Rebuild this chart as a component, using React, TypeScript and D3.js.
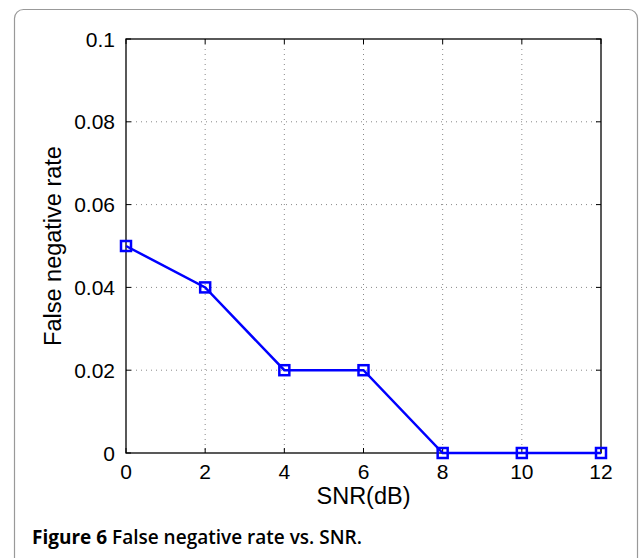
import React from 'react'
import * as d3 from 'd3'

// data
const snr = [0, 2, 4, 6, 8, 10, 12]
const falseNegRate = [0.05, 0.04, 0.02, 0.02, 0, 0, 0]
const xTicks = [0, 2, 4, 6, 8, 10, 12]
const yTicks = [0, 0.02, 0.04, 0.06, 0.08, 0.1]

const W = 639
const H = 558
const margin = { top: 39, left: 126, right: 38, bottom: 105 }

export default function App() {
  const width = W - margin.left - margin.right
  const height = H - margin.top - margin.bottom

  const x = d3.scaleLinear().domain([0, 12]).range([0, width])
  const y = d3.scaleLinear().domain([0, 0.1]).range([height, 0])

  const pts = snr.map((s, i) => ({ s, v: falseNegRate[i] }))
  const line = d3.line<{ s: number; v: number }>()
    .x(d => x(d.s))
    .y(d => y(d.v))

  const fmt = (t: number) => (t === 0 ? '0' : String(+t.toFixed(2)))
  const font = '"Liberation Sans", Arial, sans-serif'

  return (
    <svg width={W} height={H} style={{ position: 'absolute', left: 0, top: 0 }}>
      <rect x={0} y={0} width={W} height={H} fill="#fff" />
      <rect x={14.5} y={9.5} width={623} height={560} rx={9} fill="#fff" stroke="#999" strokeWidth={1.2} />
      <g transform={`translate(${margin.left},${margin.top})`}>
        {/* grid */}
        {xTicks.slice(1, -1).map(t => (
          <line key={'gx' + t} x1={x(t)} x2={x(t)} y1={0} y2={height}
            stroke="#888" strokeWidth={1} strokeDasharray="1,4" />
        ))}
        {yTicks.slice(1, -1).map(t => (
          <line key={'gy' + t} x1={0} x2={width} y1={y(t)} y2={y(t)}
            stroke="#888" strokeWidth={1} strokeDasharray="1,4" />
        ))}
        <rect x={0} y={0} width={width} height={height} fill="none" stroke="#000" strokeWidth={1.3} />
        {/* ticks */}
        {xTicks.map(t => (
          <g key={'tx' + t}>
            <line x1={x(t)} x2={x(t)} y1={height} y2={height - 5} stroke="#000" />
            <line x1={x(t)} x2={x(t)} y1={0} y2={5} stroke="#000" />
            <text x={x(t)} y={height + 26} textAnchor="middle" fontFamily={font} fontSize={21}>{t}</text>
          </g>
        ))}
        {yTicks.map(t => (
          <g key={'ty' + t}>
            <line x1={0} x2={5} y1={y(t)} y2={y(t)} stroke="#000" />
            <line x1={width} x2={width - 5} y1={y(t)} y2={y(t)} stroke="#000" />
            <text x={-11} y={y(t) + 7.5} textAnchor="end" fontFamily={font} fontSize={21}>{fmt(t)}</text>
          </g>
        ))}
        {/* series */}
        <path d={line(pts) || ''} fill="none" stroke="#0000ff" strokeWidth={2.5} />
        {pts.map(p => (
          <rect key={'m' + p.s} x={x(p.s) - 5} y={y(p.v) - 5} width={10} height={10}
            fill="none" stroke="#0000ff" strokeWidth={2.5} />
        ))}
        {/* axis labels */}
        <text x={width / 2} y={height + 51} textAnchor="middle" fontFamily={font} fontSize={23.5}>SNR(dB)</text>
        <text transform={`translate(${61 - margin.left},${246 - margin.top}) rotate(-90)`} textAnchor="middle" fontFamily={font} fontSize={23.5}>False negative rate</text>
      </g>
      <text x={32} y={544} fontFamily='"Open Sans", sans-serif' fontWeight="bold" fontSize={19}>
        Figure 6 <tspan fontWeight="600">False negative rate vs. SNR.</tspan>
      </text>
    </svg>
  )
}
